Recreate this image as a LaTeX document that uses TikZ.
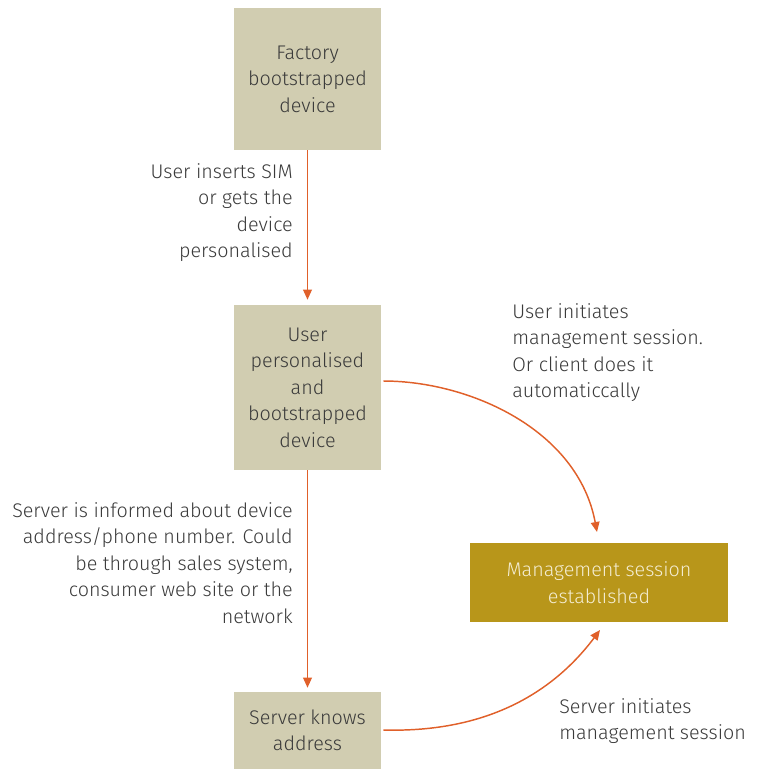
\documentclass[tikz,border=0pt]{standalone}
\usepackage{fontspec}
\setmainfont{Fira Sans}[UprightFont=* Light]
\usetikzlibrary{arrows.meta}
\definecolor{boxbeige}{HTML}{D1CDB1}
\definecolor{boxgold}{HTML}{B8961A}
\definecolor{flow}{HTML}{E0602A}
\definecolor{ink}{HTML}{3A3A3A}
\definecolor{paleink}{HTML}{F4EDD2}
\tikzset{
  txt/.style={font=\fontsize{14.8}{19.9}\selectfont},
  stage/.style={txt, fill=boxbeige, text=ink, align=center, inner sep=0pt,
    minimum width=110.25pt},
  goal/.style={txt, fill=boxgold, text=paleink, align=center, inner sep=0pt,
    minimum width=193.5pt, minimum height=59.25pt},
  note/.style={txt, text=ink, inner sep=0pt},
  flowline/.style={draw=flow, line width=1.1pt, -{Triangle[width=6.5pt,length=7.5pt]}}
}
\begin{document}
\begin{tikzpicture}[x=0.75pt,y=-0.75pt]
  \useasboundingbox (0,0) rectangle (766,769);
  % stage boxes
  \node[stage, minimum height=106.5pt] (factory) at (307.5,79) {Factory\\bootstrapped\\device};
  \node[stage, minimum height=123.75pt] (user) at (307.5,387.5) {User\\personalised\\and\\bootstrapped\\device};
  \node[stage, minimum height=57.75pt] (known) at (307.5,730.5) {Server knows\\address};
  \node[goal] (session) at (599,582.5) {Management session\\established};
  % transition labels
  \node[note, align=right, anchor=north east] (l1) at (293,163) {User inserts SIM\\or gets the\\device\\personalised};
  \node[note, align=right, anchor=north east] (l2) at (293,502) {Server is informed about device\\address/phone number. Could\\be through sales system,\\consumer web site or the\\network};
  \node[note, align=left, anchor=north west] (l3) at (512,303) {User initiates\\management session.\\Or client does it\\automaticcally};
  \node[note, align=left, anchor=north west] (l4) at (559,698) {Server initiates\\management session};
  % connectors
  \coordinate (sTop) at (597,532);
  \coordinate (sBot) at (600,630);
  \draw[flowline] (factory.south) -- ([yshift=3.75pt]user.north);
  \draw[flowline] (user.south) -- ([yshift=3pt]known.north);
  \draw[flowline] ([xshift=1.5pt]user.east |- 0,381) .. controls (470,381) and (578,430) .. (sTop);
  \draw[flowline] ([xshift=1.5pt]known.east |- 0,730) .. controls (490,733) and (555,690) .. (sBot);
\end{tikzpicture}
\end{document}
